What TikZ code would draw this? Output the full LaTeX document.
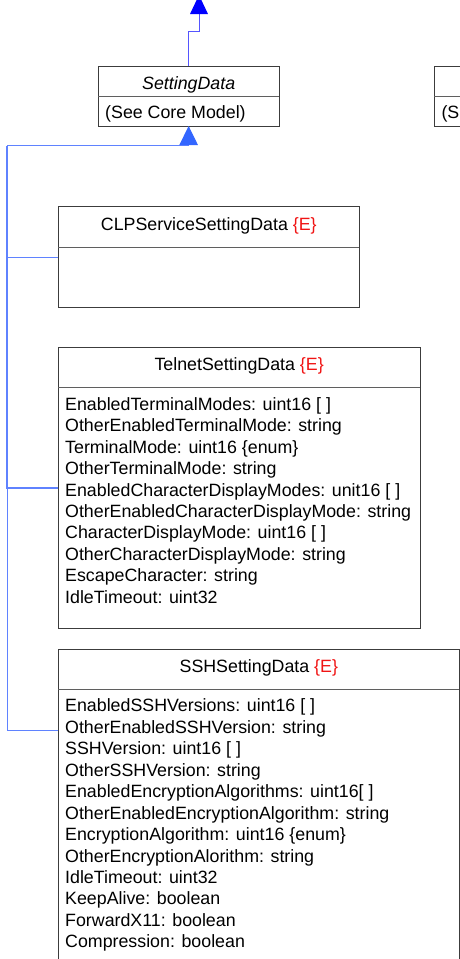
\documentclass[tikz,border=0pt]{standalone}
\usepackage{fontspec}
\setmainfont{Liberation Sans}
\usetikzlibrary{arrows.meta,calc}
\definecolor{boxline}{RGB}{60,60,60}
\definecolor{divline}{RGB}{95,95,95}
\definecolor{toparrow}{RGB}{0,0,255}
\definecolor{topline}{RGB}{85,85,255}
\definecolor{inhline}{RGB}{95,130,255}
\definecolor{inharrow}{RGB}{51,102,255}
\definecolor{stereo}{RGB}{240,20,20}
\newcommand{\stE}{\textcolor{stereo}{\{E\}}}
\begin{document}
\begin{tikzpicture}[x=1pt,y=-1pt,
  cls/.style={draw=boxline, line width=1pt, anchor=north west, inner sep=0pt, outer sep=0pt},
  divider/.style={draw=divline, line width=1.3pt},
  head/.style={anchor=base, inner sep=0pt, font=\fontsize{17.8}{21.45}\selectfont},
  attrs/.style={anchor=north west, inner sep=0pt, align=left, font=\fontsize{17.8}{21.45}\selectfont},
  inh/.style={draw=inhline, line width=1pt},
  inhtrunk/.style={draw=inhline, line width=1.8pt},
  ]
\useasboundingbox (0,0) rectangle (460,959);
\clip (0,0) rectangle (460,959);

% SettingData
\node[cls, minimum width=180.7pt, minimum height=60pt] (sd) at (98.3,66) {};
\draw[divider] ($(sd.north west)+(0,30.7)$) -- ($(sd.north east)+(0,30.7)$);
\node[head, font=\fontsize{17.8}{21.45}\selectfont\itshape] (sdname) at ($(sd.north)+(0,23.3)$) {SettingData};
\node[head, anchor=base west] (sdattr) at (105,118.3) {(See Core Model)};

% partial box on the right (cut by the picture's edge)
\node[cls, minimum width=180.7pt, minimum height=60pt] (pb) at (434.3,66) {};
\draw[divider] ($(pb.north west)+(0,30.7)$) -- ($(pb.north east)+(0,30.7)$);
\node[head, anchor=base west] (pbattr) at (441.3,118.3) {(S};

% CLPServiceSettingData
\node[cls, minimum width=301pt, minimum height=100.6pt] (clp) at (58.3,206.7) {};
\draw[divider] ($(clp.north west)+(0,40.6)$) -- ($(clp.north east)+(0,40.6)$);
\node[head] (clpname) at ($(clp.north)+(0,23.3)$) {CLPServiceSettingData \stE};

% TelnetSettingData
\node[cls, minimum width=361.7pt, minimum height=281pt] (tel) at (58.3,347.3) {};
\draw[divider] ($(tel.north west)+(0,40.4)$) -- ($(tel.north east)+(0,40.4)$);
\node[head] (telname) at ($(tel.north)+(0,23.4)$) {TelnetSettingData \stE};
\node[attrs] (telattr) at (65,395) {\rule{0pt}{15pt}EnabledTerminalModes: uint16 [ ]\\
OtherEnabledTerminalMode: string\\
TerminalMode: uint16 \{enum\}\\
OtherTerminalMode: string\\
EnabledCharacterDisplayModes: unit16 [ ]\\
OtherEnabledCharacterDisplayMode: string\\
CharacterDisplayMode: uint16 [ ]\\
OtherCharacterDisplayMode: string\\
EscapeCharacter: string\\
IdleTimeout: uint32};

% SSHSettingData
\node[cls, minimum width=401pt, minimum height=340pt] (ssh) at (58.3,649) {};
\draw[divider] ($(ssh.north west)+(0,40.3)$) -- ($(ssh.north east)+(0,40.3)$);
\node[head] (sshname) at ($(ssh.north)+(0,23.3)$) {SSHSettingData \stE};
\node[attrs] (sshattr) at (65,696.7) {\rule{0pt}{15pt}EnabledSSHVersions: uint16 [ ]\\
OtherEnabledSSHVersion: string\\
SSHVersion: uint16 [ ]\\
OtherSSHVersion: string\\
EnabledEncryptionAlgorithms: uint16[ ]\\
OtherEnabledEncryptionAlgorithm: string\\
EncryptionAlgorithm: uint16 \{enum\}\\
OtherEncryptionAlorithm: string\\
IdleTimeout: uint32\\
KeepAlive: boolean\\
ForwardX11: boolean\\
Compression: boolean};

% connectors
\coordinate (topend) at (199,-5);
\coordinate (topbend) at (188.65,31);
\draw[draw=topline, line width=1pt, -{Triangle[width=17.7pt,length=19pt,color=toparrow]}]
  (sd.north) -- (topbend) -| (topend);

\coordinate (j) at (7,145.7);
\coordinate (sshc) at ($(ssh.north west)+(0,81.7)$);
\draw[inhtrunk] (tel.west) -| (j);
\draw[inh] (clp.west) -| (j);
\draw[inh] (sshc) -| (j);
\draw[inh, -{Triangle[width=18.4pt,length=19pt,color=inharrow]}] (j) -| (sd.south);
\end{tikzpicture}
\end{document}
